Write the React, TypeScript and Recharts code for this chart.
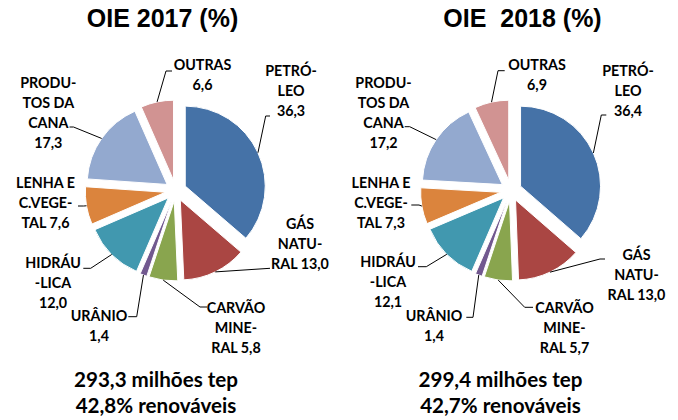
import React from 'react';
import { PieChart, Pie, Cell, Sector } from 'recharts';

// ---------- data ----------
const CATEGORIES = [
  'Petróleo',
  'Gás natural',
  'Carvão mineral',
  'Urânio',
  'Hidráulica',
  'Lenha e carvão vegetal',
  'Produtos da cana',
  'Outras',
];
const LABEL_LINES = [
  ['PETRÓ-', 'LEO'],
  ['GÁS', 'NATU-', 'RAL'],
  ['CARVÃO', 'MINE-', 'RAL'],
  ['URÂNIO'],
  ['HIDRÁU', '-LICA'],
  ['LENHA E', 'C.VEGE-', 'TAL'],
  ['PRODU-', 'TOS DA', 'CANA'],
  ['OUTRAS'],
];
const VALUE_ON_OWN_LINE = [true, false, false, true, true, false, true, true];
const VALUES_2017 = [36.3, 13.0, 5.8, 1.4, 12.0, 7.6, 17.3, 6.6];
const VALUES_2018 = [36.4, 13.0, 5.7, 1.4, 12.1, 7.3, 17.2, 6.9];
const TITLES = ['OIE 2017 (%)', 'OIE  2018 (%)'];
const TOTALS = ['293,3 milhões tep', '299,4 milhões tep'];
const RENEWABLES = ['42,8% renováveis', '42,7% renováveis'];

// ---------- styles / layout ----------
const COLORS = ['#4572A7', '#AA4643', '#89A54E', '#71588F', '#4198AF', '#DB843D', '#93A9CF', '#D19392'];
const EXPLODE = 10.5;
const RADIUS = 80;
const RAD = Math.PI / 180;
const LABEL_FONT = 'Lato, "Open Sans", sans-serif';
const LINE_H = 20;

// text position (center x, first baseline) and leader elbow/end, relative to pie center
const LAYOUT_2017 = [
  { tx: 115.3, ty: -114.5, ex: 90, ey: -74.5, fx: 94.3, fy: -74.5 },
  { tx: 124.3, ty: 38.5, ex: 94.3, ey: 77.8, fx: 94.3, fy: 77.8 },
  { tx: 60.3, ty: 122.8, ex: 24.3, ey: 116.5, fx: 31.3, fy: 116.5 },
  { tx: -76.7, ty: 130.5, ex: -39, ey: 126.2, fx: -47.4, fy: 126.2 },
  { tx: -122.7, ty: 77.5, ex: -85, ey: 77.8, fx: -92.4, fy: 77.8 },
  { tx: -130.2, ty: -2.5, ex: -92, ey: 15.5, fx: -97.7, fy: 15.5 },
  { tx: -127.4, ty: -102.5, ex: -102.2, ey: -63.5, fx: -106.2, fy: -63.5 },
  { tx: 26.8, ty: -120.5, ex: -9.7, ey: -119.5, fx: -3.7, fy: -119.5 },
];
const LAYOUT_2018 = [
  { tx: 117, ty: -114.5, ex: 90.3, ey: -75.5, fx: 95.3, fy: -75.5 },
  { tx: 125.5, ty: 69.5, ex: 89, ey: 68.5, fx: 94, fy: 68.5 },
  { tx: 53.5, ty: 122.8, ex: 13.7, ey: 116.8, fx: 22, fy: 116.8 },
  { tx: -77, ty: 130.5, ex: -38, ey: 126.8, fx: -44.7, fy: 126.8 },
  { tx: -123, ty: 76.5, ex: -84.7, ey: 76.2, fx: -93, fy: 76.2 },
  { tx: -130, ty: -2.5, ex: -92, ey: 14.5, fx: -99.7, fy: 14.5 },
  { tx: -127.5, ty: -102.5, ex: -101.3, ey: -63.8, fx: -106.3, fy: -63.8 },
  { tx: 26, ty: -120.5, ex: -13, ey: -119.8, fx: -6.3, fy: -119.8 },
];

const PIES = [
  { values: VALUES_2017, layout: LAYOUT_2017, cx: 175.7, cy: 190.5, titleX: 162.5, textX: 156 },
  { values: VALUES_2018, layout: LAYOUT_2018, cx: 511, cy: 190.5, titleX: 522.5, textX: 500.5 },
];

const fmt = (v: number) => v.toFixed(1).replace('.', ',');

function ExplodedSector(props: any) {
  const { cx, cy, midAngle, innerRadius, outerRadius, startAngle, endAngle, fill } = props;
  const dx = EXPLODE * Math.cos(-midAngle * RAD);
  const dy = EXPLODE * Math.sin(-midAngle * RAD);
  return (
    <Sector
      cx={cx + dx}
      cy={cy + dy}
      innerRadius={innerRadius}
      outerRadius={outerRadius}
      startAngle={startAngle}
      endAngle={endAngle}
      fill={fill}
      stroke="#fff"
      strokeWidth={1}
    />
  );
}

function makeLabel(values: number[], layout: any[]) {
  return (props: any) => {
    const { cx, cy, midAngle, outerRadius, index } = props;
    const L = layout[index];
    const r = outerRadius + EXPLODE;
    const sx = cx + r * Math.cos(-midAngle * RAD);
    const sy = cy + r * Math.sin(-midAngle * RAD);
    const lines = [...LABEL_LINES[index]];
    const v = fmt(values[index]);
    if (VALUE_ON_OWN_LINE[index]) lines.push(v);
    else lines[lines.length - 1] = lines[lines.length - 1] + ' ' + v;
    return (
      <g key={`lbl-${index}`}>
        <polyline
          points={`${sx},${sy} ${cx + L.ex},${cy + L.ey} ${cx + L.fx},${cy + L.fy}`}
          fill="none"
          stroke="#000"
          strokeWidth={1}
        />
        {lines.map((ln, i) => (
          <text
            key={i}
            x={cx + L.tx}
            y={cy + L.ty + i * LINE_H}
            textAnchor="middle"
            fontFamily={LABEL_FONT}
            fontWeight="bold"
            fontSize={14.3}
            fill="#000"
          >
            {ln}
          </text>
        ))}
      </g>
    );
  };
}

export default function App() {
  return (
    <div style={{ position: 'absolute', left: 0, top: 0, width: 678, height: 420, background: '#fff' }}>
      <PieChart width={678} height={420} margin={{ top: 0, right: 0, bottom: 0, left: 0 }}>
        {PIES.map((p, k) => (
          <Pie
            key={k}
            data={CATEGORIES.map((name, i) => ({ name, value: p.values[i] }))}
            dataKey="value"
            nameKey="name"
            cx={p.cx}
            cy={p.cy}
            outerRadius={RADIUS}
            startAngle={90}
            endAngle={-270}
            stroke="#fff"
            strokeWidth={1}
            shape={ExplodedSector}
            label={makeLabel(p.values, p.layout)}
            labelLine={false}
            isAnimationActive={false}
          >
            {CATEGORIES.map((c, i) => (
              <Cell key={c} fill={COLORS[i]} />
            ))}
          </Pie>
        ))}
      </PieChart>
      <svg width={678} height={420} style={{ position: 'absolute', left: 0, top: 0, pointerEvents: 'none' }}>
        {PIES.map((p, k) => (
          <g key={k}>
            <text
              x={p.titleX}
              y={27}
              textAnchor="middle"
              fontFamily='"Liberation Sans", Arial, sans-serif'
              fontWeight="bold"
              fontSize={25}
              fill="#000"
              style={{ whiteSpace: 'pre' }}
            >
              {TITLES[k]}
            </text>
            <text x={p.textX} y={387} textAnchor="middle" fontFamily={LABEL_FONT} fontWeight="bold" fontSize={20.6} fill="#000">
              {TOTALS[k]}
            </text>
            <text x={p.textX} y={413} textAnchor="middle" fontFamily={LABEL_FONT} fontWeight="bold" fontSize={20.6} fill="#000">
              {RENEWABLES[k]}
            </text>
          </g>
        ))}
      </svg>
    </div>
  );
}
